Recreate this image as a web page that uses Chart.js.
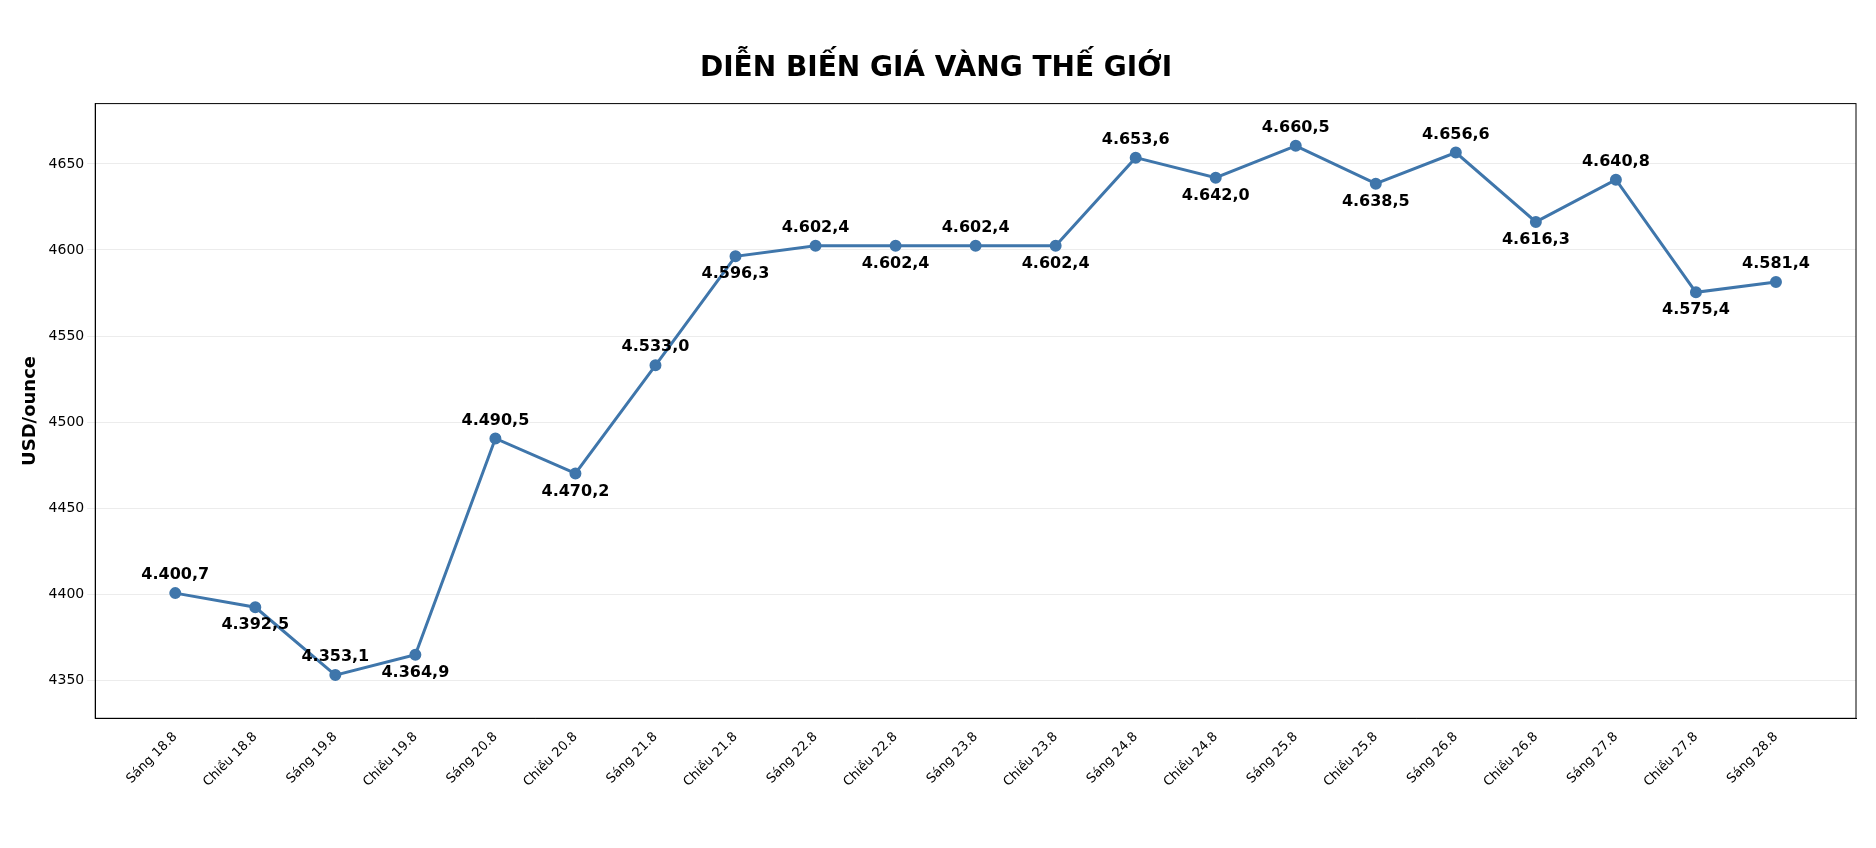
<!DOCTYPE html>
<html><head><meta charset="utf-8">
<script src="https://cdn.jsdelivr.net/npm/chart.js@4"></script>
<style>html,body{margin:0;padding:0;background:#fff}#w{width:1876px;height:848px}</style>
</head><body><div id="w"><canvas id="c"></canvas></div>
<script>
const categories=["Sáng 18.8","Chiều 18.8","Sáng 19.8","Chiều 19.8","Sáng 20.8","Chiều 20.8","Sáng 21.8","Chiều 21.8","Sáng 22.8","Chiều 22.8","Sáng 23.8","Chiều 23.8","Sáng 24.8","Chiều 24.8","Sáng 25.8","Chiều 25.8","Sáng 26.8","Chiều 26.8","Sáng 27.8","Chiều 27.8","Sáng 28.8"];
const prices=[4400.7,4392.5,4353.1,4364.9,4490.5,4470.2,4533.0,4596.3,4602.4,4602.4,4602.4,4602.4,4653.6,4642.0,4660.5,4638.5,4656.6,4616.3,4640.8,4575.4,4581.4];
const yTicks=[4350,4400,4450,4500,4550,4600,4650];
const fmt=v=>v.toFixed(1).replace('.',',').replace(/^(\d)(\d{3})/,'$1.$2');
const labelPlugin={id:'lbl',afterDatasetsDraw(ch){const ctx=ch.ctx;const m=ch.getDatasetMeta(0);ctx.save();ctx.font='bold 16px "DejaVu Sans"';ctx.fillStyle='#000';ctx.textAlign='center';
m.data.forEach((p,i)=>{const above=i%2===0;ctx.textBaseline=above?'bottom':'top';ctx.fillText(fmt(prices[i]),p.x,above?p.y-10:p.y+10);});ctx.restore();}};
const borderPlugin={id:'brd',afterDraw(ch){const a=ch.chartArea,ctx=ch.ctx;ctx.save();ctx.strokeStyle='#000';ctx.lineWidth=1;ctx.strokeRect(a.left,a.top,a.right-a.left,a.bottom-a.top);ctx.restore();}};
new Chart(document.getElementById('c'),{type:'line',
data:{datasets:[{data:prices.map((y,i)=>({x:i,y})),borderColor:'#3f76ab',backgroundColor:'#3f76ab',borderWidth:3,pointRadius:4.5,pointHoverRadius:4.5,tension:0}]},
options:{responsive:true,maintainAspectRatio:false,animation:false,
layout:{padding:{left:16,right:20,top:10,bottom:55}},
plugins:{legend:{display:false},tooltip:{enabled:false},
title:{display:true,text:'DIỄN BIẾN GIÁ VÀNG THẾ GIỚI',color:'#000',font:{family:'DejaVu Sans',size:28,weight:'bold'},padding:{top:42,bottom:18}}},
scales:{x:{type:'linear',min:-1,max:categories.length,afterBuildTicks(s){s.ticks=categories.map((c,i)=>({value:i}));},grid:{display:false},
ticks:{color:'#000',font:{family:'DejaVu Sans',size:13},maxRotation:45,minRotation:45,autoSkip:false,callback:v=>categories[v]},border:{color:'#000'}},
y:{min:4328,max:4685,afterBuildTicks(s){s.ticks=yTicks.map(v=>({value:v}));},grid:{color:'#ececec'},border:{color:'#000'},
ticks:{color:'#000',font:{family:'DejaVu Sans',size:14},callback:v=>String(v)},
title:{display:true,text:'USD/ounce',color:'#000',font:{family:'DejaVu Sans',size:18,weight:'bold'}}}}},
plugins:[labelPlugin,borderPlugin]});
</script></body></html>
